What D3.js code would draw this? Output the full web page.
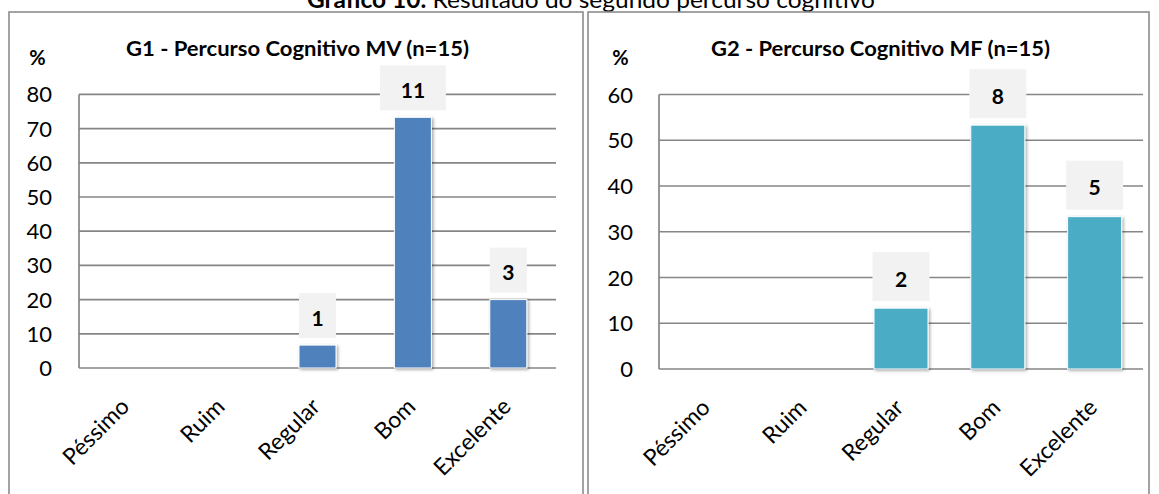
<!DOCTYPE html>
<html>
<head>
<meta charset="utf-8">
<script src="https://cdn.jsdelivr.net/npm/d3@7/dist/d3.min.js"></script>
<style>
  html, body { margin: 0; padding: 0; background: #fff; }
  svg { display: block; font-family: Lato, "Open Sans", "DejaVu Sans", sans-serif; }
</style>
</head>
<body>
<svg id="chart" width="1159" height="494"></svg>
<script>
// ---------------- data ----------------
const categories = ["Péssimo", "Ruim", "Regular", "Bom", "Excelente"];
const g1Percent = [0, 0, 6.7, 73.3, 20.0];
const g1Counts  = [0, 0, 1, 11, 3];
const g2Percent = [0, 0, 13.3, 53.3, 33.3];
const g2Counts  = [0, 0, 2, 8, 5];
const g1Ticks = [0, 10, 20, 30, 40, 50, 60, 70, 80];
const g2Ticks = [0, 10, 20, 30, 40, 50, 60];
const mainTitleBold = "Gráfico 10.";
const mainTitleRest = " Resultado do segundo percurso cognitivo";
const g1Title = "G1 - Percurso Cognitivo MV (n=15)";
const g2Title = "G2 - Percurso Cognitivo MF (n=15)";
const unitLabel = "%";

// ---------------- layout / style ----------------
const panels = [
  { title: g1Title, ticks: g1Ticks, values: g1Percent, counts: g1Counts,
    color: "#4F81BD", border: [9, 12, 583, 520],
    plot: { x0: 79, x1: 556, yTop: 94.4, yZero: 368 },
    pad: 0.612, titleX: 297.5, titleW: 343, unitX: 37.5, tickRight: 52,
    boxH: 45, boxW: d => String(d).length > 1 ? 66 : 37 },
  { title: g2Title, ticks: g2Ticks, values: g2Percent, counts: g2Counts,
    color: "#4BACC6", border: [588, 12, 1149, 520],
    plot: { x0: 659, x1: 1143, yTop: 94.5, yZero: 369 },
    pad: 0.442, titleX: 880.5, titleW: 339, unitX: 620.5, tickRight: 633,
    boxH: 49, boxW: d => 57 }
];

const svg = d3.select("#chart");
const defs = svg.append("defs");
const f = defs.append("filter").attr("id", "shadow")
  .attr("x", "-30%").attr("y", "-30%").attr("width", "160%").attr("height", "160%");
f.append("feDropShadow").attr("dx", 1.5).attr("dy", 1.2)
  .attr("stdDeviation", 1.6).attr("flood-color", "#000").attr("flood-opacity", 0.35);

// main title
const mt = svg.append("text").attr("x", 591).attr("y", 8)
  .attr("text-anchor", "middle").attr("font-size", 24).attr("fill", "#000")
  .attr("textLength", 568).attr("lengthAdjust", "spacingAndGlyphs");
mt.append("tspan").attr("font-weight", "bold").text(mainTitleBold);
mt.append("tspan").text(mainTitleRest);

panels.forEach(p => {
  const g = svg.append("g");
  const [bx0, by0, bx1, by1] = p.border;
  g.append("rect").attr("x", bx0).attr("y", by0)
    .attr("width", bx1 - bx0).attr("height", by1 - by0)
    .attr("fill", "#fff").attr("stroke", "#8c8c8c").attr("stroke-width", 1.6);

  const x = d3.scaleBand().domain(categories)
    .range([p.plot.x0, p.plot.x1]).paddingInner(p.pad).paddingOuter(p.pad / 2);
  const y = d3.scaleLinear().domain([0, d3.max(p.ticks)])
    .range([p.plot.yZero, p.plot.yTop]);

  // gridlines
  g.selectAll("line.grid").data(p.ticks).join("line")
    .attr("x1", p.plot.x0).attr("x2", p.plot.x1)
    .attr("y1", d => y(d)).attr("y2", d => y(d))
    .attr("stroke", "#868686").attr("stroke-width", 1.7);
  // y axis line
  g.append("line").attr("x1", p.plot.x0).attr("x2", p.plot.x0)
    .attr("y1", y(d3.max(p.ticks))).attr("y2", y(0))
    .attr("stroke", "#868686").attr("stroke-width", 1.7);

  // tick labels
  g.selectAll("text.tick").data(p.ticks).join("text")
    .attr("x", p.tickRight).attr("y", d => y(d) + 8)
    .attr("text-anchor", "end").attr("font-size", 22).attr("fill", "#000")
    .text(d => d);

  // category labels
  g.selectAll("text.cat").data(categories).join("text")
    .attr("transform", d => `translate(${x(d) + x.bandwidth() / 2 + 4},${y(0) + 40}) rotate(-45)`)
    .attr("text-anchor", "end").attr("font-size", 23).attr("fill", "#000")
    .text(d => d);

  // bars
  const data = categories.map((c, i) => ({ c, v: p.values[i], n: p.counts[i] }));
  g.selectAll("rect.bar").data(data.filter(d => d.v > 0)).join("rect")
    .attr("x", d => x(d.c)).attr("width", x.bandwidth())
    .attr("y", d => y(d.v)).attr("height", d => y(0) - y(d.v))
    .attr("fill", p.color).attr("stroke", "#fff").attr("stroke-width", 1)
    .attr("filter", "url(#shadow)");

  // data labels
  const lab = g.selectAll("g.lab").data(data.filter(d => d.n > 0)).join("g");
  lab.append("rect")
    .attr("x", d => x(d.c) + x.bandwidth() / 2 - p.boxW(d.n) / 2)
    .attr("width", d => p.boxW(d.n))
    .attr("y", d => y(d.v) - 7 - p.boxH).attr("height", p.boxH)
    .attr("fill", "#f2f2f2");
  lab.append("text")
    .attr("x", d => x(d.c) + x.bandwidth() / 2)
    .attr("y", d => y(d.v) - 7 - p.boxH / 2 + 10)
    .attr("text-anchor", "middle").attr("font-size", 21).attr("font-weight", "bold")
    .attr("fill", "#000").text(d => d.n);

  // chart title and unit
  g.append("text").attr("x", p.titleX).attr("y", 56).attr("text-anchor", "middle")
    .attr("font-size", 20).attr("font-weight", "bold").attr("fill", "#000")
    .attr("textLength", p.titleW).attr("lengthAdjust", "spacingAndGlyphs").text(p.title);
  g.append("text").attr("x", p.unitX).attr("y", 65).attr("text-anchor", "middle")
    .attr("font-size", 20).attr("font-weight", "bold").attr("fill", "#000").text(unitLabel);
});
</script>
</body>
</html>
